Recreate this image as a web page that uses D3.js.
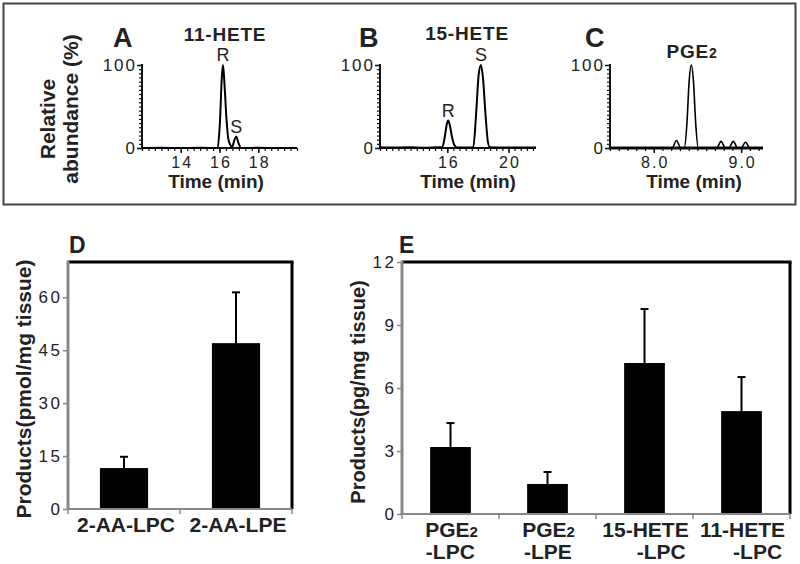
<!DOCTYPE html>
<html><head><meta charset="utf-8">
<script src="https://cdn.jsdelivr.net/npm/d3@7"></script>
<style>
body{margin:0;background:#fff}
text{font-family:"Liberation Sans",Arial,Helvetica,sans-serif}
</style></head><body>
<svg id="c" width="800" height="564"></svg>
<script>
// ---------- Data: chromatograms [time (min), relative abundance (%)] ----------
const traceA = [[12,0],[13,0.3],[14,0],[15,0.3],[15.9,0],[16.02,30],[16.12,85],[16.18,100],[16.25,80],[16.36,35],[16.45,12],[16.55,4],[16.65,1],[16.76,9],[16.86,14],[16.98,6],[17.12,0],[18,0.3],[19,0],[20,0]];
const traceB = [[11.6,1],[12.5,0.5],[13.5,1],[14.5,0.3],[15.3,0.8],[15.67,1],[15.85,15],[15.97,29],[16.06,33],[16.16,28],[16.3,14],[16.45,4],[16.65,0.5],[17.2,0.5],[17.7,1],[17.88,40],[18.05,88],[18.2,100],[18.33,85],[18.5,40],[18.65,8],[18.78,1],[19.5,0.5],[21.8,0.5]];
const traceC = [[7.5,0],[8.21,0],[8.26,9],[8.31,0],[8.35,0],[8.38,30],[8.405,80],[8.43,100],[8.455,80],[8.48,30],[8.51,0],[8.72,0],[8.77,8],[8.82,0],[8.86,0],[8.91,8],[8.96,0],[9.0,0],[9.05,7],[9.1,0],[9.25,0]];
const chromTitles = ["11-HETE","15-HETE","PGE2"];
const chromLetters = ["A","B","C"];
const chromDomains = [[12,20],[11.6,21.8],[7.5,9.25]];
const chromXTicks = [[14,16,18],[16,20],[8.0,9.0]];
const chromYTicks = [0,100];
const peakLabelsA = [["R",16.18,100],["S",16.86,14]];
const peakLabelsB = [["R",16.06,33],["S",18.2,100]];

// ---------- Data: bar charts ----------
const dCategories = ["2-AA-LPC","2-AA-LPE"];
const dValues = [11.6, 47.0];
const dErrors = [3.2, 14.4];
const dTicks = [0,15,30,45,60];

const eLine1 = ["PGE2","PGE2","15-HETE","11-HETE"];
const eLine2 = ["-LPC","-LPE","-LPC","-LPC"];
const eValues = [3.19, 1.43, 7.19, 4.9];
const eErrors = [1.14, 0.57, 2.57, 1.62];
const eTicks = [0,3,6,9,12];

// ---------- Drawing ----------
const svg = d3.select("#c");
svg.append("rect").attr("width",800).attr("height",564).attr("fill","#fff");

// top frame
svg.append("rect").attr("x",3.5).attr("y",3.5).attr("width",792).attr("height",201)
  .attr("fill","none").attr("stroke","#444").attr("stroke-width",2);

// y label top
svg.append("text").attr("transform","translate(55,119) rotate(-90)")
  .attr("text-anchor","middle").attr("font-weight","bold").attr("font-size",21).attr("fill","#222")
  .text("Relative");
svg.append("text").attr("transform","translate(78,109) rotate(-90)")
  .attr("text-anchor","middle").attr("font-weight","bold").attr("font-size",21).attr("fill","#222")
  .text("abundance (%)");

const panels = [
  {trace:traceA, x0:142, x1:297, labels:peakLabelsA, lw:2, axw:2, minor:1/3, letterX:113, titleX:225, titleY:41, timeX:216},
  {trace:traceB, x0:380, x1:536, labels:peakLabelsB, lw:2, axw:2, minor:0.4, letterX:359, titleX:467, titleY:40, timeX:468},
  {trace:traceC, x0:610, x1:763, labels:[], lw:1.6, axw:3.2, minor:0.1, letterX:585, titleX:692, titleY:58, timeX:694}
];
const yTop = 65, yBot = 148;

panels.forEach((p,i)=>{
  const g = svg.append("g");
  const dom = chromDomains[i];
  const x = d3.scaleLinear().domain(dom).range([p.x0,p.x1]);
  const y = d3.scaleLinear().domain([0,100]).range([yBot,yTop]);

  // y axis with dense minor ticks
  const yAx = d3.axisLeft(y).tickValues(d3.range(0,100.01,5)).tickSize(3).tickFormat("");
  const ya = g.append("g").attr("transform",`translate(${p.x0},0)`).call(yAx);
  ya.select(".domain").remove();
  ya.selectAll(".tick line").attr("stroke","#111").attr("stroke-width",1.2);
  g.append("line").attr("x1",p.x0).attr("x2",p.x0).attr("y1",yTop-1).attr("y2",yBot+1)
    .attr("stroke","#111").attr("stroke-width",2);
  const yMaj = d3.axisLeft(y).tickValues(chromYTicks).tickSize(5).tickPadding(2).tickFormat(d3.format("d"));
  const ym = g.append("g").attr("transform",`translate(${p.x0},0)`).call(yMaj);
  ym.select(".domain").remove();
  ym.selectAll(".tick line").attr("stroke","#111").attr("stroke-width",1.5);
  ym.selectAll(".tick text").attr("font-size",17).attr("fill","#222").attr("letter-spacing","2px")
    .attr("dx","2px").attr("font-family",'"Liberation Sans",Arial,sans-serif');

  // x axis minor ticks
  const minorVals = d3.range(Math.ceil(dom[0]/p.minor)*p.minor, dom[1]+1e-9, p.minor);
  const xMin = d3.axisBottom(x).tickValues(minorVals).tickSize(3).tickFormat("");
  const xm = g.append("g").attr("transform",`translate(0,${yBot})`).call(xMin);
  xm.select(".domain").remove();
  xm.selectAll(".tick line").attr("stroke","#111").attr("stroke-width",1.2);
  const xMaj = d3.axisBottom(x).tickValues(chromXTicks[i]).tickSize(5).tickPadding(4)
    .tickFormat(i===2? d3.format(".1f") : d3.format("d"));
  const xM = g.append("g").attr("transform",`translate(0,${yBot})`).call(xMaj);
  xM.select(".domain").remove();
  xM.selectAll(".tick line").attr("stroke","#111").attr("stroke-width",1.5);
  xM.selectAll(".tick text").attr("font-size",16).attr("fill","#222").attr("letter-spacing","2px")
    .attr("dx","1px").attr("dy","0.71em").attr("font-family",'"Liberation Sans",Arial,sans-serif');
  g.append("line").attr("x1",p.x0-1).attr("x2",p.x1).attr("y1",yBot).attr("y2",yBot)
    .attr("stroke","#111").attr("stroke-width",p.axw);

  // trace
  const line = d3.line().x(d=>x(d[0])).y(d=>y(d[1])).curve(d3.curveMonotoneX);
  g.append("path").datum(p.trace).attr("d",line).attr("fill","none")
    .attr("stroke","#000").attr("stroke-width",p.lw).attr("stroke-linejoin","round");

  // peak labels
  p.labels.forEach(l=>{
    g.append("text").attr("x",x(l[1])).attr("y",y(l[2])-(l[2]===100?4:3.5))
      .attr("text-anchor","middle").attr("font-size",18).attr("fill","#222").text(l[0]);
  });

  // letter
  g.append("text").attr("x",p.letterX).attr("y",47).attr("font-size",27).attr("font-weight","bold")
    .attr("fill","#222").text(chromLetters[i]);
  // title
  const t = g.append("text").attr("x",p.titleX).attr("y",p.titleY).attr("text-anchor","middle")
    .attr("font-size",19).attr("font-weight","bold").attr("letter-spacing","0.8px").attr("fill","#222");
  if (chromTitles[i]==="PGE2"){ t.append("tspan").text("PGE"); t.append("tspan").attr("font-size",14).text("2"); }
  else t.text(chromTitles[i]);
  // time label
  g.append("text").attr("x",p.timeX).attr("y",188).attr("text-anchor","middle")
    .attr("font-size",19).attr("font-weight","bold").attr("fill","#222").text("Time (min)");
});

// ---------- bar panels ----------
function barPanel(opt){
  const g = svg.append("g");
  const {x0,x1,yB,yT,cats,vals,errs,ticks,maxV,pad} = opt;
  const x = d3.scaleBand().domain(cats).range([x0,x1]).paddingInner(pad).paddingOuter(pad/2);
  const y = d3.scaleLinear().domain([0,maxV]).range([yB,yT]);
  // bars
  g.selectAll("rect.bar").data(cats).enter().append("rect")
    .attr("x",d=>x(d)).attr("width",x.bandwidth())
    .attr("y",(d,i)=>y(vals[i])).attr("height",(d,i)=>yB-y(vals[i])).attr("fill","#000");
  // error bars
  cats.forEach((c,i)=>{
    const cx = x(c)+x.bandwidth()/2;
    g.append("line").attr("x1",cx).attr("x2",cx).attr("y1",y(vals[i])).attr("y2",y(vals[i]+errs[i]))
      .attr("stroke","#000").attr("stroke-width",2);
    g.append("line").attr("x1",cx-4).attr("x2",cx+4).attr("y1",y(vals[i]+errs[i])).attr("y2",y(vals[i]+errs[i]))
      .attr("stroke","#000").attr("stroke-width",2);
  });
  // frame
  g.append("line").attr("x1",x0).attr("x2",x1+1.5).attr("y1",yT).attr("y2",yT).attr("stroke","#000").attr("stroke-width",3);
  g.append("line").attr("x1",x1).attr("x2",x1).attr("y1",yT).attr("y2",yB).attr("stroke","#000").attr("stroke-width",3);
  // y axis
  const ya = g.append("g").attr("transform",`translate(${x0},0)`)
    .call(d3.axisLeft(y).tickValues(ticks).tickSize(5).tickPadding(3));
  ya.select(".domain").remove();
  ya.selectAll(".tick line").attr("stroke","#888").attr("stroke-width",1.5);
  ya.selectAll(".tick text").attr("font-size",17).attr("fill","#222").attr("letter-spacing","2.5px")
    .attr("dx","2.5px").attr("font-family",'"Liberation Sans",Arial,sans-serif');
  g.append("line").attr("x1",x0).attr("x2",x0).attr("y1",yT-1.5).attr("y2",yB+1).attr("stroke","#888").attr("stroke-width",3);
  // x axis
  g.append("line").attr("x1",x0).attr("x2",x1).attr("y1",yB).attr("y2",yB).attr("stroke","#888").attr("stroke-width",2);
  const step = x.step();
  const bounds = d3.range(cats.length+1).map(k=>x0+k*step);
  g.selectAll("line.xt").data(bounds).enter().append("line")
    .attr("x1",d=>d).attr("x2",d=>d).attr("y1",yB).attr("y2",yB+5).attr("stroke","#888").attr("stroke-width",1.5);
  return {g,x,y};
}

// D
const D = barPanel({x0:68,x1:292,yB:509,yT:262,cats:dCategories,vals:dValues,errs:dErrors,ticks:dTicks,maxV:70,pad:0.57});
D.g.selectAll("text.cat").data(dCategories).enter().append("text")
  .attr("x",d=>D.x(d)+D.x.bandwidth()/2+2).attr("y",532).attr("text-anchor","middle")
  .attr("font-size",21).attr("font-weight","bold").attr("fill","#222").text(d=>d);
svg.append("text").attr("x",69).attr("y",253).attr("font-size",23).attr("font-weight","bold").attr("fill","#222").text("D");
svg.append("text").attr("transform","translate(31,389) rotate(-90)").attr("text-anchor","middle")
  .attr("font-size",21).attr("font-weight","bold").attr("fill","#222").text("Products(pmol/mg tissue)");

// E
const eCats = eLine1.map((d,i)=>d+eLine2[i]);
const E = barPanel({x0:402,x1:790,yB:514,yT:262,cats:eCats,vals:eValues,errs:eErrors,ticks:eTicks,maxV:12,pad:0.58});
eCats.forEach((c,i)=>{
  const cx = E.x(c)+E.x.bandwidth()/2;
  const t1 = E.g.append("text").attr("x",cx+1).attr("y",537).attr("text-anchor","middle")
    .attr("font-size",21).attr("font-weight","bold").attr("fill","#222");
  if (eLine1[i]==="PGE2"){ t1.append("tspan").text("PGE"); t1.append("tspan").attr("font-size",15).text("2"); }
  else t1.text(eLine1[i]);
  const w = t1.node().getComputedTextLength();
  E.g.append("text").attr("x",cx+1+w/2-3).attr("y",559).attr("text-anchor","end")
    .attr("font-size",21).attr("font-weight","bold").attr("fill","#222").text(eLine2[i]);
});
svg.append("text").attr("x",399).attr("y",253).attr("font-size",23).attr("font-weight","bold").attr("fill","#222").text("E");
svg.append("text").attr("transform","translate(365,392) rotate(-90)").attr("text-anchor","middle")
  .attr("font-size",20).attr("font-weight","bold").attr("fill","#222").text("Products(pg/mg tissue)");
</script>
</body></html>
